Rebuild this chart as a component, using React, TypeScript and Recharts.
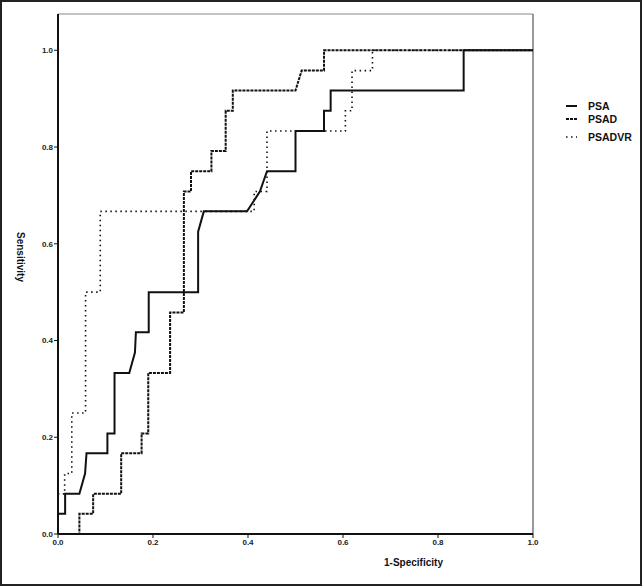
import React from 'react';
import { LineChart, Line, XAxis, YAxis, ReferenceLine } from 'recharts';

document.body.style.margin = '0';

// ROC curve points (1-specificity, sensitivity)
const psaFpr = [0, 0, 0.015, 0.015, 0.045, 0.057, 0.06, 0.104, 0.104, 0.119, 0.119, 0.15, 0.162, 0.164, 0.191, 0.191, 0.295, 0.295, 0.307, 0.398, 0.425, 0.44, 0.5, 0.5, 0.56, 0.56, 0.574, 0.574, 0.854, 0.854, 1.0];
const psaTpr = [0, 0.042, 0.042, 0.083, 0.083, 0.125, 0.167, 0.167, 0.208, 0.208, 0.333, 0.333, 0.375, 0.417, 0.417, 0.5, 0.5, 0.625, 0.667, 0.667, 0.708, 0.75, 0.75, 0.833, 0.833, 0.875, 0.875, 0.917, 0.917, 1.0, 1.0];

const psadFpr = [0, 0.045, 0.045, 0.074, 0.074, 0.133, 0.133, 0.176, 0.176, 0.19, 0.19, 0.236, 0.236, 0.265, 0.265, 0.28, 0.28, 0.323, 0.323, 0.353, 0.353, 0.368, 0.368, 0.5, 0.513, 0.56, 0.56, 1.0];
const psadTpr = [0, 0, 0.042, 0.042, 0.083, 0.083, 0.167, 0.167, 0.208, 0.208, 0.333, 0.333, 0.458, 0.458, 0.708, 0.708, 0.75, 0.75, 0.792, 0.792, 0.875, 0.875, 0.917, 0.917, 0.958, 0.958, 1.0, 1.0];

const psadvrFpr = [0, 0, 0.014, 0.014, 0.029, 0.029, 0.058, 0.058, 0.089, 0.089, 0.413, 0.413, 0.44, 0.44, 0.605, 0.605, 0.619, 0.619, 0.662, 0.662, 1.0];
const psadvrTpr = [0, 0.083, 0.083, 0.125, 0.125, 0.25, 0.25, 0.5, 0.5, 0.667, 0.667, 0.708, 0.708, 0.833, 0.833, 0.875, 0.875, 0.958, 0.958, 1.0, 1.0];

const axisTicks = [0, 0.2, 0.4, 0.6, 0.8, 1.0];

const toPoints = (xs: number[], ys: number[]) => xs.map((x, i) => ({ x, y: ys[i] }));

const series = [
  { name: 'PSA', data: toPoints(psaFpr, psaTpr), dash: undefined, width: 2 },
  { name: 'PSAD', data: toPoints(psadFpr, psadTpr), dash: '3 1', width: 2 },
  { name: 'PSADVR', data: toPoints(psadvrFpr, psadvrTpr), dash: '1.5 3.5', width: 1.6 },
];

const FONT = '"Liberation Sans", Arial, sans-serif';
const tickStyle = { fontSize: 8, fontWeight: 700, fill: '#222', fontFamily: FONT };

// legend drawn by hand, outside the svg so it takes no room from the plot
const LegendBox = () => {
  const rows = [
    { name: 'PSA', top: 0, dash: undefined, w: 2 },
    { name: 'PSAD', top: 13, dash: '3 1', w: 2 },
    { name: 'PSADVR', top: 31, dash: '1.5 3.5', w: 1.6 },
  ];
  return (
    <div style={{ position: 'absolute', left: 555, top: 97, width: 80, height: 50, fontFamily: FONT }}>
      {rows.map((r) => (
        <div key={r.name} style={{ position: 'absolute', top: r.top, left: 0, display: 'flex', alignItems: 'center', height: 14 }}>
          <svg width={24} height={14}>
            <line x1={9} y1={7} x2={20} y2={7} stroke="#111" strokeWidth={r.w} strokeDasharray={r.dash} />
          </svg>
          <span style={{ fontSize: 10.5, fontWeight: 700, color: '#111', marginLeft: 7 }}>{r.name}</span>
        </div>
      ))}
    </div>
  );
};

export default function App() {
  return (
    <div style={{ width: 642, height: 586, border: '2px solid #222', boxSizing: 'border-box', background: '#fff', position: 'relative', overflow: 'hidden' }}>
      <LineChart width={638} height={582} margin={{ top: 12, right: 107, bottom: 0, left: 0 }}>
        <XAxis
          type="number"
          dataKey="x"
          domain={[0, 1]}
          ticks={axisTicks}
          tickFormatter={(v: number) => v.toFixed(1)}
          tick={tickStyle}
          tickSize={4}
          tickMargin={1}
          height={50}
          stroke="#111"
          strokeWidth={2}
          tickLine={{ stroke: '#111', strokeWidth: 1 }}
          label={{
            content: (p: any) => {
              const vb = p.viewBox || {};
              const cx = vb.x + vb.width / 2 + 118;
              return (
                <text x={cx} y={vb.y + 32} textAnchor="middle" style={{ fontSize: 10, fontWeight: 700, fill: '#111', fontFamily: FONT }}>
                  1-Specificity
                </text>
              );
            },
          }}
        />
        <YAxis
          type="number"
          dataKey="y"
          domain={[0, 1.075]}
          ticks={axisTicks}
          tickFormatter={(v: number) => v.toFixed(1)}
          tick={tickStyle}
          tickSize={4}
          tickMargin={1}
          width={56}
          stroke="#111"
          strokeWidth={2}
          tickLine={{ stroke: '#111', strokeWidth: 1 }}
          label={{
            content: (p: any) => {
              const vb = p.viewBox || {};
              const x = 18;
              const y = vb.y + vb.height / 2 - 17;
              return (
                <text x={x} y={y} transform={`rotate(90 ${x} ${y})`} textAnchor="middle" dominantBaseline="middle" style={{ fontSize: 10, fontWeight: 700, fill: '#111', fontFamily: FONT }}>
                  Sensitivity
                </text>
              );
            },
          }}
        />
        <ReferenceLine y={1.075} stroke="#888" strokeWidth={1} />
        <ReferenceLine x={1} stroke="#777" strokeWidth={1.5} />
        {series
          .slice()
          .reverse()
          .map((s) => (
            <Line
              key={s.name}
              data={s.data}
              dataKey="y"
              name={s.name}
              type="linear"
              stroke="#111"
              strokeWidth={s.width}
              strokeDasharray={s.dash}
              dot={false}
              activeDot={false}
              isAnimationActive={false}
            />
          ))}
      </LineChart>
      <LegendBox />
    </div>
  );
}
